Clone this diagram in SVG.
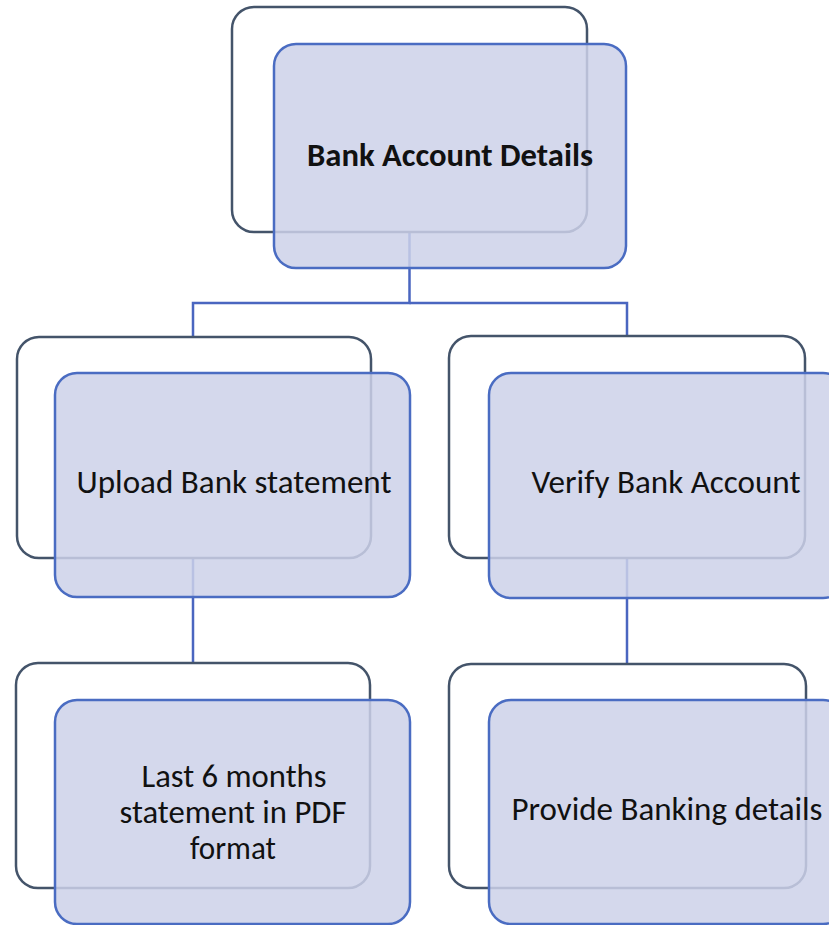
<svg xmlns="http://www.w3.org/2000/svg" width="829" height="925" viewBox="0 0 829 925">
<style>
.back{fill:#ffffff;stroke:#44546a;stroke-width:2.5}
.front{fill:#ccd1e9;fill-opacity:0.85;stroke:#4a6cc2;stroke-width:2.5}
.conn{fill:none;stroke:#4a66c0;stroke-width:2.5}
text{font-family:Carlito,Lato,"Noto Sans",sans-serif;font-size:32px;fill:#111;text-anchor:middle}
.bold{font-weight:bold}
</style>
<rect width="829" height="925" fill="#ffffff"/>
<g id="connectors">
<path class="conn" d="M409.5 232 V303 H193 V337"/>
<path class="conn" d="M409.5 303 H627 V336"/>
<path class="conn" d="M193 558 V663"/>
<path class="conn" d="M627 558 V664"/>
</g>
<g id="node-root">
<rect class="back" x="232" y="7" width="355" height="225" rx="22"/>
<rect class="front" x="274" y="44" width="352" height="224" rx="22"/>
<text class="bold" x="450" y="166" textLength="286" lengthAdjust="spacingAndGlyphs">Bank Account Details</text>
</g>
<g id="node-upload">
<rect class="back" x="17" y="337" width="354" height="221" rx="22"/>
<rect class="front" x="55" y="373" width="355" height="224" rx="22"/>
<text x="234" y="493" textLength="315" lengthAdjust="spacingAndGlyphs">Upload Bank statement</text>
</g>
<g id="node-verify">
<rect class="back" x="449" y="336" width="356" height="222" rx="22"/>
<rect class="front" x="489" y="373" width="356" height="225" rx="22"/>
<text x="666" y="493" textLength="269" lengthAdjust="spacingAndGlyphs">Verify Bank Account</text>
</g>
<g id="node-last6">
<rect class="back" x="16" y="663" width="354" height="225" rx="22"/>
<rect class="front" x="55" y="700" width="355" height="224" rx="22"/>
<text x="234" y="787" textLength="185" lengthAdjust="spacingAndGlyphs">Last 6 months</text>
<text x="233" y="823" textLength="227" lengthAdjust="spacingAndGlyphs">statement in PDF</text>
<text x="233" y="859" textLength="86" lengthAdjust="spacingAndGlyphs">format</text>
</g>
<g id="node-provide">
<rect class="back" x="449" y="664" width="357" height="224" rx="22"/>
<rect class="front" x="489" y="700" width="356" height="224" rx="22"/>
<text x="667" y="820" textLength="311" lengthAdjust="spacingAndGlyphs">Provide Banking details</text>
</g>
</svg>
